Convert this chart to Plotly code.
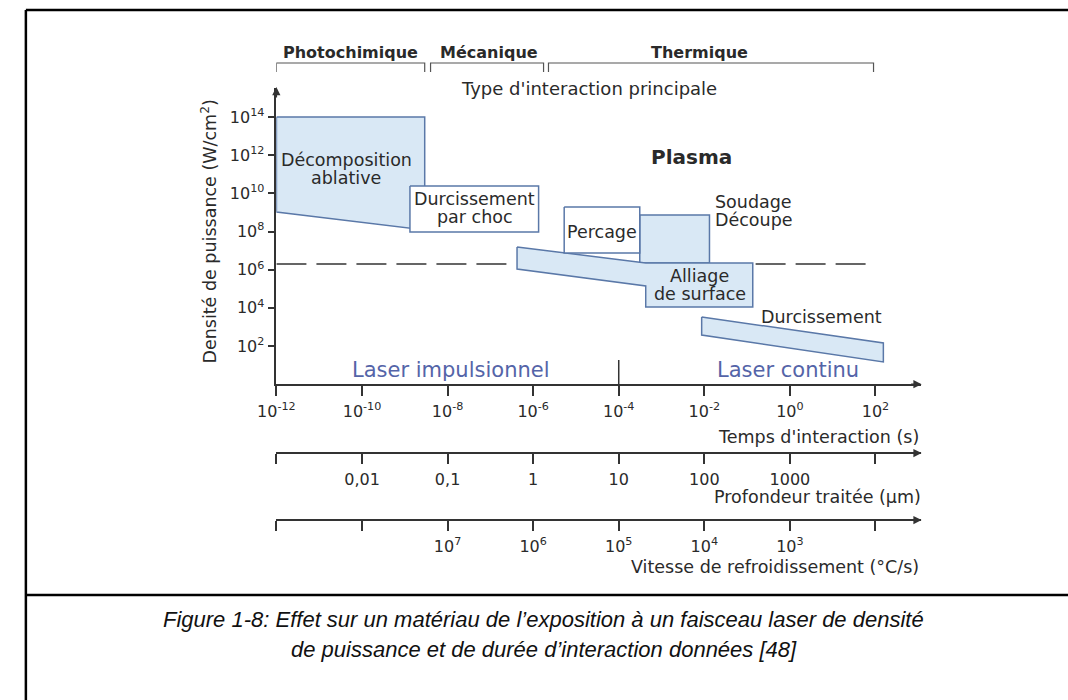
import plotly.graph_objects as go

W, H = 1068, 700

# ---------------- data ----------------
time_ticks = [1e-12, 1e-10, 1e-8, 1e-6, 1e-4, 1e-2, 1e0, 1e2]
time_ticktext = ["10<sup>-12</sup>", "10<sup>-10</sup>", "10<sup>-8</sup>", "10<sup>-6</sup>",
                 "10<sup>-4</sup>", "10<sup>-2</sup>", "10<sup>0</sup>", "10<sup>2</sup>"]
density_ticks = [1e2, 1e4, 1e6, 1e8, 1e10, 1e12, 1e14]
density_ticktext = ["10<sup>2</sup>", "10<sup>4</sup>", "10<sup>6</sup>", "10<sup>8</sup>",
                    "10<sup>10</sup>", "10<sup>12</sup>", "10<sup>14</sup>"]
depth_ticks = [1e-3, 1e-2, 1e-1, 1e0, 1e1, 1e2, 1e3, 1e4]
depth_ticktext = ["", "0,01", "0,1", "1", "10", "100", "1000", ""]
cooling_ticks = [1e9, 1e8, 1e7, 1e6, 1e5, 1e4, 1e3, 1e2]
cooling_ticktext = ["", "", "10<sup>7</sup>", "10<sup>6</sup>", "10<sup>5</sup>",
                    "10<sup>4</sup>", "10<sup>3</sup>", ""]

# regions (interaction time in s, power density in W/cm2)
decomposition_t = [1e-12, 2.92e-9, 2.92e-9, 1e-12]
decomposition_p = [1e14, 1e14, 1.21e8, 1.06e9]
choc_t = [1.32e-9, 1.34e-6, 1.34e-6, 1.32e-9]
choc_p = [2.44e10, 2.44e10, 9.5e7, 9.5e7]
soudage_t = [3.10e-4, 1.32e-2, 1.32e-2, 3.10e-4]
soudage_p = [7.38e8, 7.38e8, 2.25e6, 2.25e6]
alliage_t = [4.2e-7, 4.27e-4, 0.1355, 0.1355, 4.27e-4, 4.27e-4, 4.2e-7]
alliage_p = [1.55e7, 2.25e6, 2.25e6, 1.11e4, 1.11e4, 1.40e5, 1.09e6]
percage_t = [5.31e-6, 3.10e-4, 3.10e-4, 5.31e-6]
percage_p = [1.94e9, 1.94e9, 7.52e6, 7.52e6]
durcissement_t = [8.67e-3, 152.8, 152.8, 8.67e-3]
durcissement_p = [3.33e3, 144, 14.6, 379]

plasma_threshold = 2e6
dash_left_t = [1e-12, 3.78e-7]
dash_right_t = [0.158, 90]
pulse_cw_t = 1e-4
pulse_cw_p = [1, 18.5]

bracket_names = ["Photochimique", "Mécanique", "Thermique"]
bracket_start = [1e-12, 4.0e-9, 2.28e-6]
bracket_end = [2.92e-9, 1.75e-6, 90]

# ---------------- styles ----------------
FONT = "DejaVu Sans"
TXT = "#2a2a2a"
AX = "#333333"
FILL = "#d9e8f5"
EDGE = "#5a78a8"
BLUE_TXT = "#5464a8"

# axis calibration (log decades)
X_MIN, X_MAX = -12.002, 3.056
Y_MIN, Y_MAX = 0.0, 15.52

fig = go.Figure()


def poly(t, p, fill):
    fig.add_trace(go.Scatter(x=t + t[:1], y=p + p[:1], mode="lines", fill="toself",
                             fillcolor=fill, line=dict(color=EDGE, width=1.5),
                             hoverinfo="skip", showlegend=False))


poly(decomposition_t, decomposition_p, FILL)
poly(choc_t, choc_p, "white")
poly(soudage_t, soudage_p, FILL)
poly(alliage_t, alliage_p, FILL)
poly(percage_t, percage_p, "white")
poly(durcissement_t, durcissement_p, FILL)

for seg in (dash_left_t, dash_right_t):
    fig.add_trace(go.Scatter(x=seg, y=[plasma_threshold] * 2, mode="lines",
                             line=dict(color=AX, width=1.5, dash="30px,10px"),
                             hoverinfo="skip", showlegend=False))

fig.add_trace(go.Scatter(x=[pulse_cw_t, pulse_cw_t], y=pulse_cw_p, mode="lines",
                         line=dict(color=AX, width=1.5), hoverinfo="skip", showlegend=False))

# brackets on top (own vertical axis)
for t0, t1 in zip(bracket_start, bracket_end):
    fig.add_trace(go.Scatter(x=[t0, t0, t1, t1], y=[0, 1, 1, 0], yaxis="y2", mode="lines",
                             line=dict(color="#555555", width=1.2),
                             hoverinfo="skip", showlegend=False))

# invisible traces so the secondary axes render
fig.add_trace(go.Scatter(x=[1.0], y=[1e5], xaxis="x2", mode="markers",
                         marker=dict(opacity=0), hoverinfo="skip", showlegend=False))
fig.add_trace(go.Scatter(x=[1e5], y=[1e5], xaxis="x3", mode="markers",
                         marker=dict(opacity=0), hoverinfo="skip", showlegend=False))

tickfont = dict(family=FONT, size=16, color=TXT)
common = dict(showgrid=False, zeroline=False, showline=True, linecolor=AX, linewidth=1.5,
              ticks="outside", tickcolor=AX, tickwidth=1.5, tickfont=tickfont)

fig.update_layout(
    width=W, height=H, margin=dict(l=0, r=0, t=0, b=0),
    paper_bgcolor="white", plot_bgcolor="white", showlegend=False,
    xaxis=dict(type="log", domain=[262 / W, 918 / W], range=[X_MIN, X_MAX], anchor="y",
               tickmode="array", tickvals=time_ticks, ticktext=time_ticktext, ticklen=10,
               ticklabelstandoff=2, **common),
    yaxis=dict(type="log", domain=[(H - 384.2) / H, (H - 88) / H], range=[Y_MIN, Y_MAX],
               anchor="x", tickmode="array", tickvals=density_ticks, ticktext=density_ticktext,
               ticklen=7, **common),
    yaxis2=dict(domain=[(H - 72.9) / H, (H - 62.1) / H], range=[-0.1, 1.1], anchor="x",
                visible=False, fixedrange=True),
    xaxis2=dict(type="log", overlaying="x", anchor="free", position=(H - 453) / H, side="bottom",
                range=[(X_MIN + 6) / 2, (X_MAX + 6) / 2], tickmode="array", tickvals=depth_ticks,
                ticktext=depth_ticktext, ticklen=10, ticklabelstandoff=2, **common),
    xaxis3=dict(type="log", overlaying="x", anchor="free", position=(H - 520) / H, side="bottom",
                range=[3 - X_MIN / 2, 3 - X_MAX / 2], tickmode="array", tickvals=cooling_ticks,
                ticktext=cooling_ticktext, ticklen=10, ticklabelstandoff=2, **common),
)

ann = []


def txt(x, y, text, size=17.5, xref="x", yref="y", xanchor="center", color=TXT, bold=False, angle=0):
    if bold:
        text = "<b>" + text + "</b>"
    ann.append(dict(x=x, y=y, xref=xref, yref=yref, text=text, showarrow=False,
                    xanchor=xanchor, yanchor="middle", textangle=angle,
                    font=dict(family=FONT, size=size, color=color)))


def py(pix):  # paper y from pixel row
    return (H - pix) / H


# bracket titles
txt(-10.28, py(52), bracket_names[0], size=16, yref="paper", bold=True)
txt(-7.04, py(52), bracket_names[1], size=16, yref="paper", bold=True)
txt(-2.11, py(52), bracket_names[2], size=16, yref="paper", bold=True)
txt(-4.70, py(89), "Type d'interaction principale", size=18, yref="paper")

# region labels (log coordinates)
txt(-10.37, 11.75, "Décomposition")
txt(-10.37, 10.80, "ablative")
txt(-7.36, 9.70, "Durcissement")
txt(-7.36, 8.76, "par choc")
txt(-4.40, 7.98, "Percage")
txt(-2.29, 11.91, "Plasma", size=20, bold=True)
txt(-1.79, 9.55, "Soudage", xanchor="left")
txt(-1.79, 8.61, "Découpe", xanchor="left")
txt(-2.11, 5.65, "Alliage")
txt(-2.11, 4.75, "de surface")
txt(0.74, 3.52, "Durcissement")
txt(-7.92, 0.755, "Laser impulsionnel", size=21, color=BLUE_TXT)
txt(-0.04, 0.755, "Laser continu", size=21, color=BLUE_TXT)

# axis titles
txt(193 / W, py(232), "Densité de puissance (W/cm<sup>2</sup>)", xref="paper", yref="paper", angle=-90)
txt(918 / W, py(437), "Temps d'interaction (s)", xref="paper", yref="paper", xanchor="right")
txt(920 / W, py(497), "Profondeur traitée (µm)", xref="paper", yref="paper", xanchor="right")
txt(918 / W, py(567), "Vitesse de refroidissement (°C/s)", xref="paper", yref="paper", xanchor="right")

# arrow heads
for ypix in (384.2, 453, 520):
    ann.append(dict(x=919 / W, y=py(ypix), xref="paper", yref="paper", text="", showarrow=True,
                    ax=-12, ay=0, arrowhead=2, arrowsize=1.1, arrowwidth=1.5, arrowcolor=AX))
ann.append(dict(x=262 / W, y=py(87), xref="paper", yref="paper", text="", showarrow=True,
                ax=0, ay=12, arrowhead=2, arrowsize=1.1, arrowwidth=1.5, arrowcolor=AX))

# caption
cap = dict(family="Liberation Sans", size=22, color="#111111")
ann.append(dict(x=0.5, y=py(634), xref="paper", yref="paper", showarrow=False, font=cap,
                text="<i>Figure 1-8: Effet sur un matériau de l’exposition à un faisceau laser de densité</i>"))
ann.append(dict(x=0.5, y=py(664), xref="paper", yref="paper", showarrow=False, font=cap,
                text="<i>de puissance et de durée d’interaction données [48]</i>"))

fig.update_layout(annotations=ann)

# frame
frame = dict(color="black", width=2.5)
fig.add_shape(type="line", xref="paper", yref="paper", x0=7 / W, x1=1, y0=py(10), y1=py(10), line=frame)
fig.add_shape(type="line", xref="paper", yref="paper", x0=7 / W, x1=7 / W, y0=0, y1=py(10), line=frame)
fig.add_shape(type="line", xref="paper", yref="paper", x0=7 / W, x1=1, y0=py(595), y1=py(595), line=frame)

fig.write_html("out.html", config={"displayModeBar": False},
               post_script="document.body.style.margin='0';")
